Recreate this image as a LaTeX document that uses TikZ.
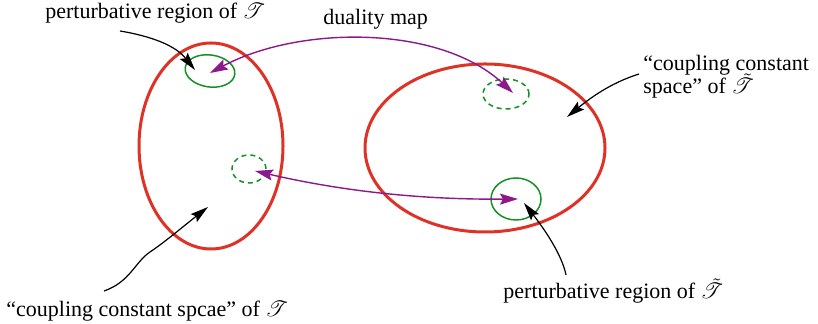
\documentclass[tikz,border=0pt]{standalone}
\usepackage{fontspec}
\setmainfont{Liberation Serif}
\usepackage{mathrsfs}
\usetikzlibrary{arrows.meta,shapes.geometric}
\definecolor{spacered}{RGB}{222,50,38}
\definecolor{regiongreen}{RGB}{22,145,40}
\definecolor{mappurple}{RGB}{140,24,140}
\newcommand{\Th}{\mathscr{T}}
\newcommand{\dTh}{\tilde{\mathscr{T}}}

\begin{document}
\begin{tikzpicture}[x=0.5pt,y=-0.5pt,
    font=\rmfamily\fontsize{11}{11}\selectfont,
    space/.style={draw=spacered,line width=1.5pt,ellipse,inner sep=0pt},
    region/.style={draw=regiongreen,line width=0.75pt,ellipse,inner sep=0pt},
    dual/.style={region,dash pattern=on 2.5pt off 2pt},
    dmap/.style={draw=mappurple,line width=0.7pt,{Stealth[length=9pt,width=5.5pt,inset=1.5pt]}-{Stealth[length=9pt,width=5.5pt,inset=1.5pt]}},
    pointer/.style={draw=black,line width=0.6pt,-{Stealth[length=9pt,width=5pt,inset=1.5pt]}},
    lbl/.style={inner sep=0pt}]
  \useasboundingbox (0,0) rectangle (818,324);
  % coupling constant spaces
  \node[space,minimum width=72pt,minimum height=103pt] (spT) at (211,146) {};
  \node[space,minimum width=120pt,minimum height=84pt] (spD) at (485,148) {};
  % perturbative regions (solid) and their images (dashed)
  \node[region,minimum width=25pt,minimum height=16pt,rotate=-8] (prT) at (210,71) {};
  \node[dual,minimum width=17pt,minimum height=14pt] (imT) at (249,169) {};
  \node[dual,minimum width=23pt,minimum height=15pt] (imD) at (506,94) {};
  \node[region,minimum width=25pt,minimum height=21pt] (prD) at (516,199) {};
  % labels
  \node[lbl,anchor=base west] (lprT) at (45,19) {perturbative region of $\Th$};
  \node[lbl,anchor=base west] (lmap) at (323,25) {duality map};
  \node[lbl,anchor=base west] (lspD) at (643,71) {``coupling constant};
  \node[lbl,anchor=base west] (lspD2) at (643,94) {space'' of $\dTh$};
  \node[lbl,anchor=base west] (lprD) at (503,299) {perturbative region of $\dTh$};
  \node[lbl,anchor=base west] (lspT) at (6,317) {``coupling constant spcae'' of $\Th$};
  % ends of the pointers
  \coordinate (tprT) at (210,73);
  \coordinate (timD) at (513,93);
  \coordinate (timT) at (255,171);
  \coordinate (tprD) at (518,199);
  \coordinate (sprT) at (120,31);
  \coordinate (eprT) at (195,70);
  \coordinate (sspD) at (639,74);
  \coordinate (espD) at (567,117);
  \coordinate (sprD) at (566,275);
  \coordinate (eprD) at (524,203);
  \coordinate (sspT) at (104,291);
  \coordinate (espT) at (208,207);
  % duality map
  \draw[dmap] (tprT) .. controls (300,25) and (440,25) .. (timD);
  \draw[dmap] (timT) .. controls (320,186) and (400,200) .. (tprD);
  % pointers
  \draw[pointer] (sprT) .. controls (150,36) and (175,45) .. (eprT);
  \draw[pointer] (sspD) .. controls (620,80) and (600,90) .. (espD);
  \draw[pointer] (sprD) .. controls (562,255) and (545,230) .. (eprD);
  \draw[pointer] (sspT) .. controls (130,282) and (135,262) .. (150,252)
    .. controls (165,242) and (185,225) .. (espT);
\end{tikzpicture}
\end{document}
